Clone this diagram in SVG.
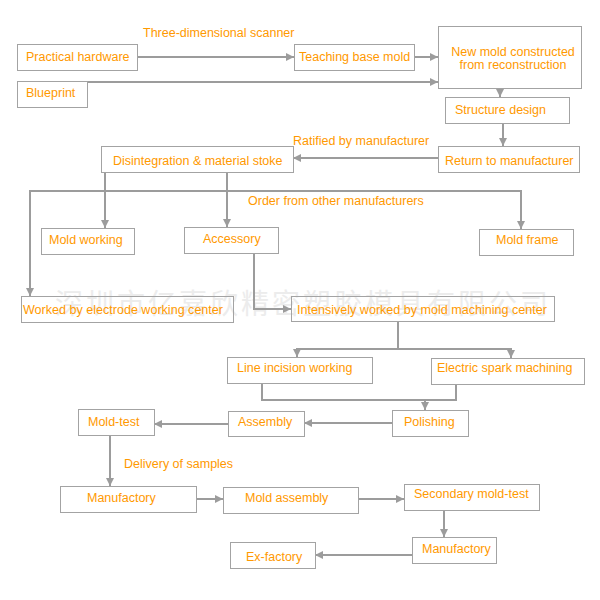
<svg xmlns="http://www.w3.org/2000/svg" width="600" height="600" viewBox="0 0 600 600">
<style>
.box{fill:none;stroke:#a3a3a3;stroke-width:1}
.t{font-family:"Liberation Sans",Arial,sans-serif;font-size:12.5px;fill:#ff9900}
.c{fill:none;stroke:#9c9c9c;stroke-width:2}
.wm{font-family:"Noto Sans CJK SC",sans-serif;font-size:28px;fill:#ececec}
</style>
<defs>
<marker id="ah" markerUnits="userSpaceOnUse" markerWidth="9" markerHeight="9" refX="8" refY="4" orient="auto-start-reverse">
<path d="M0,0 L8,4 L0,8 z" fill="#9c9c9c"/>
</marker>
</defs>
<rect width="600" height="600" fill="#ffffff"/>
<text class="wm" x="55" y="314" textLength="493" lengthAdjust="spacing">深圳市亿嘉欣精密塑胶模具有限公司</text>

<g id="connectors">
<path class="c" d="M137,57 H294" marker-end="url(#ah)"/>
<path class="c" d="M414,57 H438" marker-end="url(#ah)"/>
<path class="c" d="M87,82 H438" marker-end="url(#ah)"/>
<path class="c" d="M500,88 V97" marker-end="url(#ah)"/>
<path class="c" d="M503,123 V146" marker-end="url(#ah)"/>
<path class="c" d="M438,158 H293" marker-end="url(#ah)"/>
<path class="c" d="M105,172 V228" marker-end="url(#ah)"/>
<path class="c" d="M227,172 V227" marker-end="url(#ah)"/>
<path class="c" d="M30,296 V191 H521 V229" marker-start="url(#ah)" marker-end="url(#ah)"/>
<path class="c" d="M254,253 V309 H291" marker-end="url(#ah)"/>
<path class="c" d="M398,321 V349"/>
<path class="c" d="M297,357 V349 H511 V358" marker-start="url(#ah)" marker-end="url(#ah)"/>
<path class="c" d="M262,383 V400 H456 V384"/>
<path class="c" d="M425,400 V410" marker-end="url(#ah)"/>
<path class="c" d="M392,423 H304" marker-end="url(#ah)"/>
<path class="c" d="M228,424 H154" marker-end="url(#ah)"/>
<path class="c" d="M110,435 V486" marker-end="url(#ah)"/>
<path class="c" d="M196,499 H223" marker-end="url(#ah)"/>
<path class="c" d="M358,499 H404" marker-end="url(#ah)"/>
<path class="c" d="M444,510 V537" marker-end="url(#ah)"/>
<path class="c" d="M412,555 H315" marker-end="url(#ah)"/>
</g>

<g id="labels">
<text class="t" x="143" y="37">Three-dimensional scanner</text>
<text class="t" x="293" y="145">Ratified by manufacturer</text>
<text class="t" x="248" y="205">Order from other manufacturers</text>
<text class="t" x="124" y="468">Delivery of samples</text>
</g>

<g id="practical-hardware"><rect class="box" x="17.5" y="44.5" width="120" height="26"/><text class="t" x="26" y="61">Practical hardware</text></g>
<g id="blueprint"><rect class="box" x="17.5" y="81.5" width="70" height="26"/><text class="t" x="26" y="97">Blueprint</text></g>
<g id="teaching-base-mold"><rect class="box" x="294.5" y="44.5" width="120" height="26"/><text class="t" x="299" y="61">Teaching base mold</text></g>
<g id="new-mold"><rect class="box" x="438.5" y="26.5" width="143" height="62"/><text class="t" x="513" y="56" text-anchor="middle">New mold constructed</text><text class="t" x="513" y="69" text-anchor="middle">from reconstruction</text></g>
<g id="structure-design"><rect class="box" x="445.5" y="97.5" width="124" height="26"/><text class="t" x="455" y="114">Structure design</text></g>
<g id="return-to-manufacturer"><rect class="box" x="438.5" y="146.5" width="141" height="26"/><text class="t" x="445" y="165">Return to manufacturer</text></g>
<g id="disintegration"><rect class="box" x="101.5" y="146.5" width="192" height="26"/><text class="t" x="113" y="165">Disintegration &amp; material stoke</text></g>
<g id="mold-working"><rect class="box" x="41.5" y="228.5" width="93" height="26"/><text class="t" x="49" y="244">Mold working</text></g>
<g id="accessory"><rect class="box" x="184.5" y="227.5" width="94" height="26"/><text class="t" x="203" y="243">Accessory</text></g>
<g id="mold-frame"><rect class="box" x="479.5" y="229.5" width="94" height="26"/><text class="t" x="496" y="244">Mold frame</text></g>
<g id="electrode-center"><rect class="box" x="21.5" y="296.5" width="212" height="26"/><text class="t" x="23" y="314" font-size="12" textLength="200" lengthAdjust="spacingAndGlyphs">Worked by electrode working center</text></g>
<g id="machining-center"><rect class="box" x="291.5" y="296.5" width="263" height="25"/><text class="t" x="297" y="314" font-size="12" textLength="250" lengthAdjust="spacingAndGlyphs">Intensively worked by mold machining center</text></g>
<g id="line-incision"><rect class="box" x="227.5" y="357.5" width="145" height="26"/><text class="t" x="237" y="372">Line incision working</text></g>
<g id="electric-spark"><rect class="box" x="431.5" y="358.5" width="153" height="26"/><text class="t" x="437" y="372">Electric spark machining</text></g>
<g id="polishing"><rect class="box" x="392.5" y="410.5" width="76" height="26"/><text class="t" x="404" y="426">Polishing</text></g>
<g id="assembly"><rect class="box" x="228.5" y="411.5" width="76" height="25"/><text class="t" x="238" y="426">Assembly</text></g>
<g id="mold-test"><rect class="box" x="78.5" y="409.5" width="76" height="26"/><text class="t" x="88" y="426">Mold-test</text></g>
<g id="manufactory-1"><rect class="box" x="60.5" y="486.5" width="136" height="26"/><text class="t" x="87" y="502">Manufactory</text></g>
<g id="mold-assembly"><rect class="box" x="223.5" y="487.5" width="135" height="26"/><text class="t" x="245" y="502">Mold assembly</text></g>
<g id="secondary-mold-test"><rect class="box" x="404.5" y="484.5" width="135" height="26"/><text class="t" x="414" y="498">Secondary mold-test</text></g>
<g id="manufactory-2"><rect class="box" x="412.5" y="537.5" width="84" height="26"/><text class="t" x="422" y="553">Manufactory</text></g>
<g id="ex-factory"><rect class="box" x="230.5" y="542.5" width="85" height="26"/><text class="t" x="246" y="561">Ex-factory</text></g>
</svg>
